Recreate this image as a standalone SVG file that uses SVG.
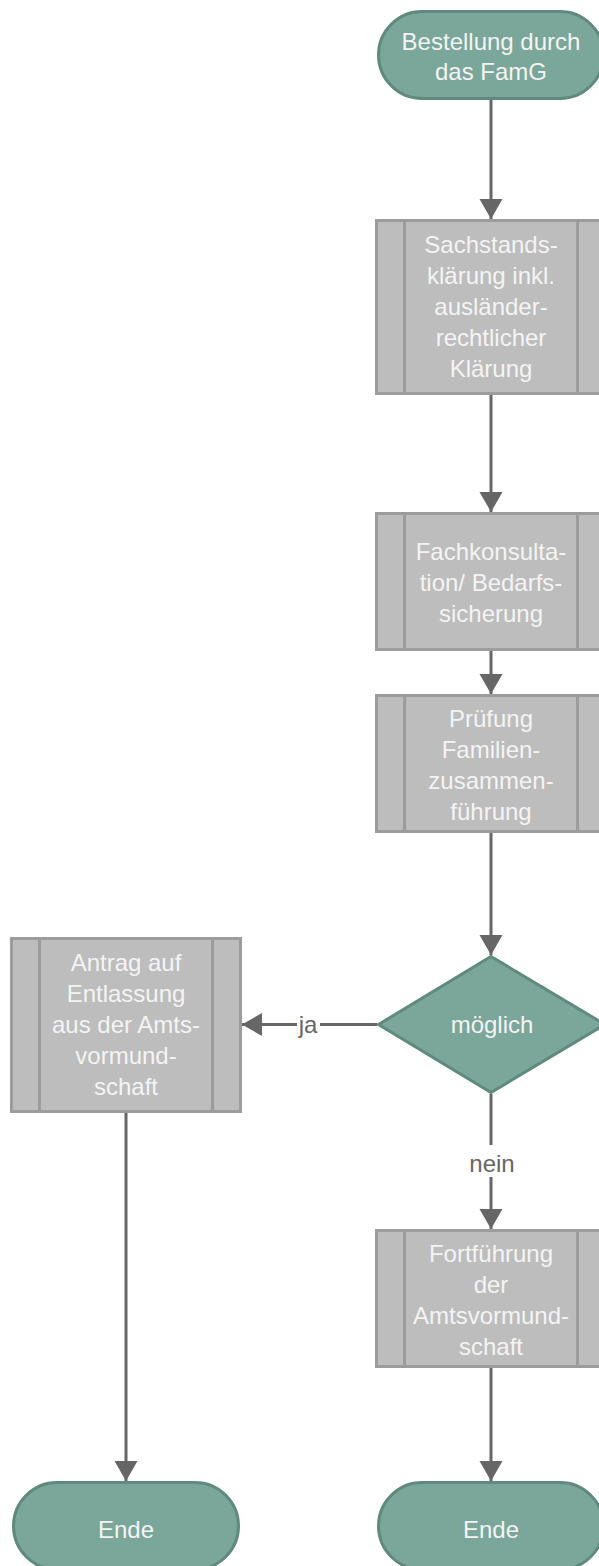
<svg xmlns="http://www.w3.org/2000/svg" width="599" height="1566" viewBox="0 0 599 1566">
  <style>
    .term { fill: #7aa79a; stroke: #5f8a7d; stroke-width: 3; }
    .proc { fill: #bdbdbd; stroke: #9c9c9c; stroke-width: 3; }
    .bar { stroke: #9c9c9c; stroke-width: 3; }
    .txt { font-family: "Liberation Sans", Arial, sans-serif; font-size: 24px; fill: #f4f4f4; text-anchor: middle; }
    .lbl { font-family: "Liberation Sans", Arial, sans-serif; font-size: 24px; fill: #666666; text-anchor: middle; }
    .edge { stroke: #666666; stroke-width: 3; fill: none; }
  </style>
  <defs>
    <marker id="arrow" markerUnits="userSpaceOnUse" markerWidth="22" markerHeight="24" refX="20" refY="11.5" orient="auto">
      <path d="M0,0 L20,11.5 L0,23 z" fill="#666666"/>
    </marker>
  </defs>

  <rect width="599" height="1566" fill="#ffffff"/>

  <g id="connectors">
    <line class="edge" x1="491" y1="100" x2="491" y2="219" marker-end="url(#arrow)"/>
    <line class="edge" x1="491" y1="395" x2="491" y2="512" marker-end="url(#arrow)"/>
    <line class="edge" x1="491" y1="651" x2="491" y2="694" marker-end="url(#arrow)"/>
    <line class="edge" x1="491" y1="833" x2="491" y2="955" marker-end="url(#arrow)"/>
    <!-- ja -->
    <line class="edge" x1="377" y1="1024.5" x2="320" y2="1024.5"/>
    <line class="edge" x1="297" y1="1024.5" x2="242" y2="1024.5" marker-end="url(#arrow)"/>
    <text class="lbl" x="308" y="1033">ja</text>
    <!-- nein -->
    <line class="edge" x1="491" y1="1094" x2="491" y2="1145"/>
    <line class="edge" x1="491" y1="1177" x2="491" y2="1229" marker-end="url(#arrow)"/>
    <text class="lbl" x="492" y="1172">nein</text>
    <line class="edge" x1="491" y1="1368" x2="491" y2="1481" marker-end="url(#arrow)"/>
    <line class="edge" x1="126" y1="1113" x2="126" y2="1481" marker-end="url(#arrow)"/>
  </g>

  <g id="start">
    <rect class="term" x="378.5" y="11.5" width="225" height="87" rx="43.5"/>
    <text class="txt" x="491" y="50">Bestellung durch</text>
    <text class="txt" x="491" y="80">das FamG</text>
  </g>

  <g id="sachstand">
    <rect class="proc" x="376.5" y="220.5" width="229" height="173"/>
    <line class="bar" x1="404.5" y1="220.5" x2="404.5" y2="393.5"/>
    <line class="bar" x1="577.5" y1="220.5" x2="577.5" y2="393.5"/>
    <text class="txt" x="491" y="253">Sachstands-</text>
    <text class="txt" x="491" y="284">klärung inkl.</text>
    <text class="txt" x="491" y="315">ausländer-</text>
    <text class="txt" x="491" y="346">rechtlicher</text>
    <text class="txt" x="491" y="377">Klärung</text>
  </g>

  <g id="fachkonsultation">
    <rect class="proc" x="376.5" y="513.5" width="229" height="136"/>
    <line class="bar" x1="404.5" y1="513.5" x2="404.5" y2="649.5"/>
    <line class="bar" x1="577.5" y1="513.5" x2="577.5" y2="649.5"/>
    <text class="txt" x="491" y="560">Fachkonsulta-</text>
    <text class="txt" x="491" y="591">tion/ Bedarfs-</text>
    <text class="txt" x="491" y="622">sicherung</text>
  </g>

  <g id="pruefung">
    <rect class="proc" x="376.5" y="695.5" width="229" height="136"/>
    <line class="bar" x1="404.5" y1="695.5" x2="404.5" y2="831.5"/>
    <line class="bar" x1="577.5" y1="695.5" x2="577.5" y2="831.5"/>
    <text class="txt" x="491" y="727">Prüfung</text>
    <text class="txt" x="491" y="758">Familien-</text>
    <text class="txt" x="491" y="789">zusammen-</text>
    <text class="txt" x="491" y="820">führung</text>
  </g>

  <g id="moeglich">
    <polygon class="term" points="491,956.5 605,1024.5 491,1092.5 378.5,1024.5"/>
    <text class="txt" x="492" y="1033">möglich</text>
  </g>

  <g id="antrag">
    <rect class="proc" x="11.5" y="938.5" width="229" height="173"/>
    <line class="bar" x1="39.5" y1="938.5" x2="39.5" y2="1111.5"/>
    <line class="bar" x1="212.5" y1="938.5" x2="212.5" y2="1111.5"/>
    <text class="txt" x="126" y="971">Antrag auf</text>
    <text class="txt" x="126" y="1002">Entlassung</text>
    <text class="txt" x="126" y="1033">aus der Amts-</text>
    <text class="txt" x="126" y="1064">vormund-</text>
    <text class="txt" x="126" y="1095">schaft</text>
  </g>

  <g id="fortfuehrung">
    <rect class="proc" x="376.5" y="1230.5" width="229" height="136"/>
    <line class="bar" x1="404.5" y1="1230.5" x2="404.5" y2="1366.5"/>
    <line class="bar" x1="577.5" y1="1230.5" x2="577.5" y2="1366.5"/>
    <text class="txt" x="491" y="1262">Fortführung</text>
    <text class="txt" x="491" y="1293">der</text>
    <text class="txt" x="491" y="1324">Amtsvormund-</text>
    <text class="txt" x="491" y="1355">schaft</text>
  </g>

  <g id="ende-links">
    <rect class="term" x="13.5" y="1482.5" width="225" height="87" rx="43.5"/>
    <text class="txt" x="126" y="1538">Ende</text>
  </g>

  <g id="ende-rechts">
    <rect class="term" x="378.5" y="1482.5" width="225" height="87" rx="43.5"/>
    <text class="txt" x="491" y="1538">Ende</text>
  </g>
</svg>
